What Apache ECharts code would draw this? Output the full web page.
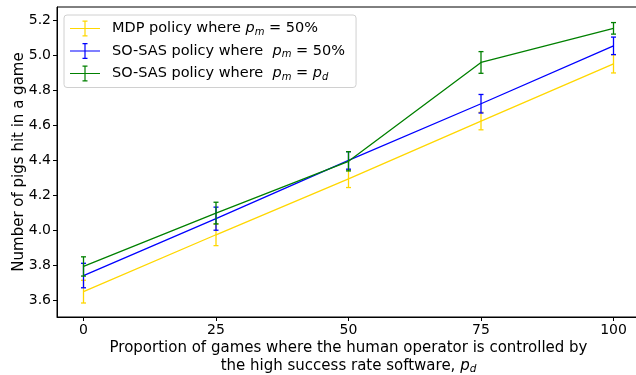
<!DOCTYPE html>
<html><head><meta charset="utf-8">
<script src="https://cdn.jsdelivr.net/npm/echarts@6/dist/echarts.min.js"></script>
<style>html,body{margin:0;padding:0;background:#fff}#c{width:636px;height:375px}</style>
</head><body><div id="c"></div>
<script>
const xValues = [0, 25, 50, 75, 100];
const mdpMean = [3.65, 3.975, 4.295, 4.625, 4.952];
const mdpErr  = [0.065, 0.062, 0.05, 0.05, 0.052];
const sas50Mean = [3.742, 4.067, 4.40, 4.724, 5.055];
const sas50Err  = [0.07, 0.066, 0.05, 0.053, 0.05];
const sasPdMean = [3.794, 4.099, 4.395, 4.96, 5.155];
const sasPdErr  = [0.055, 0.062, 0.055, 0.062, 0.033];
const yTicks = [3.6, 3.8, 4.0, 4.2, 4.4, 4.6, 4.8, 5.0, 5.2];
const xTicks = [0, 25, 50, 75, 100];
const seriesNames = ['MDP', 'SAS50', 'SASPD'];
const colors = ['#FFD700', '#0000FF', '#008000'];

const FONT = 'DejaVu Sans';
const chart = echarts.init(document.getElementById('c'));

function errSeries(mean, err, color, z) {
  return {
    type: 'custom', z: z, silent: true,
    data: xValues.map((x, i) => [x, mean[i], err[i]]),
    renderItem: function (params, api) {
      const x = api.value(0), m = api.value(1), e = api.value(2);
      const top = api.coord([x, m + e]);
      const bot = api.coord([x, m - e]);
      const cw = 2.5;
      const st = {stroke: color, lineWidth: 1.3};
      return {type: 'group', children: [
        {type: 'line', shape: {x1: top[0], y1: top[1], x2: bot[0], y2: bot[1]}, style: st},
        {type: 'line', shape: {x1: top[0]-cw, y1: top[1], x2: top[0]+cw, y2: top[1]}, style: st},
        {type: 'line', shape: {x1: bot[0]-cw, y1: bot[1], x2: bot[0]+cw, y2: bot[1]}, style: st}
      ]};
    }
  };
}
function lineSeries(name, mean, color, z) {
  return {
    name: name, type: 'line', z: z, symbol: 'none', silent: true,
    data: xValues.map((x, i) => [x, mean[i]]),
    lineStyle: {color: color, width: 1.3},
    itemStyle: {color: color}
  };
}

const iconPath = 'path://M0,9.4h30v1.2h-30z M14.4,2h1.2v16h-1.2z M12.5,2h5v1.2h-5z M12.5,16.8h5v1.2h-5z';
const legendText = {
  MDP: '{t|MDP policy where }{i|p}{s|m}{t| = 50%}',
  SAS50: '{t|SO-SAS policy where  }{i|p}{s|m}{t| = 50%}',
  SASPD: '{t|SO-SAS policy where  }{i|p}{s|m}{t| = }{i|p}{s|d}'
};
const LF = 14.5;

chart.setOption({
  animation: false,
  textStyle: {fontFamily: FONT},
  grid: {left: 57, top: 7, width: 583, height: 310, show: true, borderColor: '#000', borderWidth: 1,
         containLabel: false, outerBoundsMode: 'none'},
  legend: {
    left: 64, top: 15, orient: 'vertical', itemGap: 6,
    itemWidth: 30, itemHeight: 18, icon: iconPath,
    padding: [5.5, 11, 5.5, 6],
    borderColor: '#d0d0d0', borderWidth: 1, borderRadius: 3, backgroundColor: 'rgba(255,255,255,0.8)',
    data: seriesNames.map((n, i) => ({name: n, icon: iconPath, itemStyle: {color: colors[i]}})),
    formatter: n => legendText[n],
    textStyle: {
      fontFamily: FONT, fontSize: LF, color: '#000', padding: [0, 0, 0, 7],
      rich: {
        t: {fontFamily: FONT, fontSize: LF, color: '#000'},
        i: {fontFamily: FONT, fontSize: LF, fontStyle: 'italic', color: '#000'},
        s: {fontFamily: FONT, fontSize: 10, fontStyle: 'italic', color: '#000', padding: [7, 0, 0, 0]}
      }
    }
  },
  xAxis: {
    type: 'value', min: -5, max: 105,
    name: 'Proportion of games where the human operator is controlled by\nthe high success rate software, {i|p}{s|d}',
    nameLocation: 'middle', nameGap: 22, nameMoveOverlap: false,
    nameTextStyle: {fontFamily: FONT, fontSize: 15, color: '#000', lineHeight: 18, verticalAlign: 'top',
      rich: {i: {fontFamily: FONT, fontSize: 15, fontStyle: 'italic', color: '#000'},
             s: {fontFamily: FONT, fontSize: 10.5, fontStyle: 'italic', color: '#000', padding: [7, 0, 0, 0]}}},
    splitLine: {show: false},
    axisLine: {onZero: false, lineStyle: {color: '#000', width: 1}},
    axisTick: {show: true, length: 4, lineStyle: {color: '#000'}, customValues: xTicks},
    axisLabel: {fontFamily: FONT, fontSize: 14, color: '#000', margin: 6, customValues: xTicks, formatter: v => String(v)}
  },
  yAxis: {
    type: 'value', min: 3.505, max: 5.277,
    name: 'Number of pigs hit in a game', nameLocation: 'middle', nameGap: 30.5, nameMoveOverlap: false,
    nameTextStyle: {fontFamily: FONT, fontSize: 15, color: '#000'},
    splitLine: {show: false},
    axisLine: {onZero: false, lineStyle: {color: '#000', width: 1}},
    axisTick: {show: true, length: 4, lineStyle: {color: '#000'}, customValues: yTicks},
    axisLabel: {fontFamily: FONT, fontSize: 14, color: '#000', margin: 6, customValues: yTicks, formatter: v => v.toFixed(1)}
  },
  series: [
    lineSeries('MDP', mdpMean, colors[0], 2), errSeries(mdpMean, mdpErr, colors[0], 2),
    lineSeries('SAS50', sas50Mean, colors[1], 3), errSeries(sas50Mean, sas50Err, colors[1], 3),
    lineSeries('SASPD', sasPdMean, colors[2], 4), errSeries(sasPdMean, sasPdErr, colors[2], 4)
  ]
});
</script></body></html>
